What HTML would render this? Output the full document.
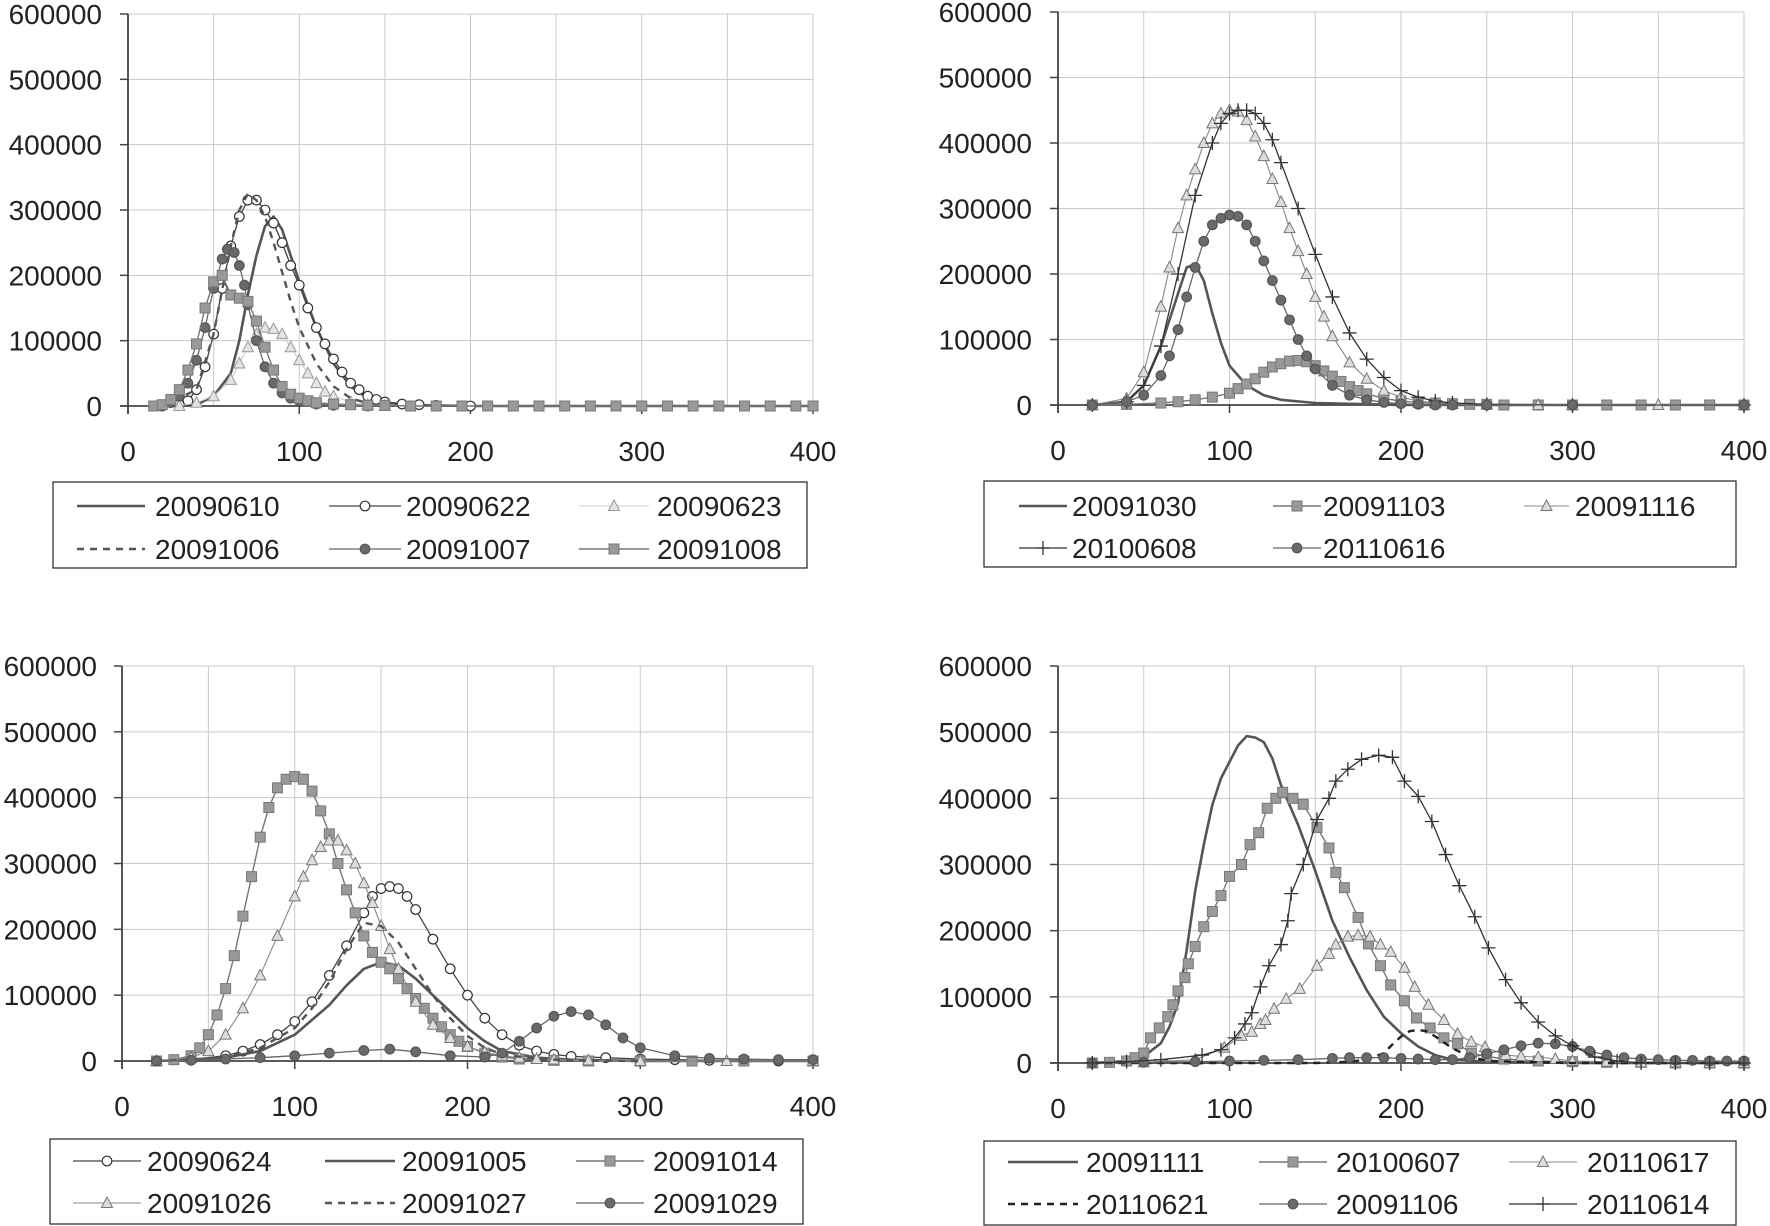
<!DOCTYPE html>
<html><head><meta charset="utf-8"><style>
html,body{margin:0;padding:0;background:#fff;}
svg{display:block;}
text{font-family:"Liberation Sans",sans-serif;fill:#222;}
</style></head><body>
<svg id="svg" width="1770" height="1226" viewBox="0 0 1770 1226" xmlns="http://www.w3.org/2000/svg"></svg>
<script>
// ---- data (x = day, y = thousands) ----
const xTicks=[0,100,200,300,400];
const yTicks=[0,100000,200000,300000,400000,500000,600000];
const yTickLabels=["0","100000","200000","300000","400000","500000","600000"];

// panel 1
const p1_20090610_x=[20,40,50,60,65,70,75,80,85,90,95,100,110,120,130,140,150,170,200,400];
const p1_20090610_y=[0,2,15,50,100,170,230,275,290,270,230,190,120,65,30,12,5,1,0,0];
const p1_20090622_x=[20,30,35,40,45,50,55,60,65,70,75,80,85,90,95,100,105,110,115,120,125,130,135,140,145,150,160,170,180,200];
const p1_20090622_y=[0,2,8,25,60,110,180,245,290,315,315,300,280,250,215,185,150,120,95,72,52,35,25,15,10,6,3,2,1,0];
const p1_20090623_x=[30,40,50,60,65,70,75,80,85,90,95,100,105,110,115,120,130,140,150];
const p1_20090623_y=[0,5,15,40,65,90,110,120,118,110,90,70,50,35,22,15,6,2,0];
const p1_20091006_x=[20,40,50,60,65,70,75,80,85,90,95,100,110,120,130,140,150];
const p1_20091006_y=[0,25,110,245,300,325,315,290,250,205,160,120,65,30,12,4,0];
const p1_20091007_x=[20,25,30,35,40,45,50,55,58,62,65,68,70,75,80,85,90,95,100,110,120,140];
const p1_20091007_y=[0,5,15,35,70,120,180,225,240,235,215,185,155,100,60,35,20,12,8,3,1,0];
const p1_20091008_x=[15,20,25,30,35,40,45,50,55,60,65,70,75,80,85,90,95,100,105,110,120,130,140,150,165,180,195,210,225,240,255,270,285,300,315,330,345,360,375,390,400];
const p1_20091008_y=[0,2,10,25,55,95,150,190,200,170,165,160,130,90,55,30,18,12,8,5,3,2,1,1,0,0,0,0,0,0,0,0,0,0,0,0,0,0,0,0,0];

// panel 2
const p2_20091030_x=[20,40,50,60,70,75,80,85,90,95,100,110,120,130,150,200,400];
const p2_20091030_y=[0,5,30,90,170,210,215,190,140,95,60,30,15,8,3,0,0];
const p2_20091103_x=[20,40,60,70,80,90,100,105,110,115,120,125,130,135,140,145,150,155,160,165,170,175,180,190,200,210,220,230,240,250,260,280,300,320,340,360,380,400];
const p2_20091103_y=[0,1,3,5,8,12,18,25,32,40,50,58,63,67,68,66,60,52,44,36,28,22,17,10,6,4,3,2,1,1,0,0,0,0,0,0,0,0];
const p2_20091116_x=[20,40,50,60,65,70,75,80,85,90,95,100,105,110,115,120,125,130,135,140,145,150,155,160,170,180,190,200,210,220,230,250,280,300,350,400];
const p2_20091116_y=[0,10,50,150,210,270,320,360,400,430,445,450,448,435,410,380,345,310,270,235,200,165,135,105,65,40,22,12,6,3,2,1,0,0,0,0];
const p2_20100608_x=[20,40,50,60,70,80,90,95,100,105,110,115,120,125,130,140,150,160,170,180,190,200,210,220,230,250,300,400];
const p2_20100608_y=[0,5,30,90,200,320,400,430,445,450,450,445,430,405,370,300,230,165,110,70,42,22,12,6,3,1,0,0];
const p2_20110616_x=[20,40,50,60,65,70,75,80,85,90,95,100,105,110,115,120,125,130,135,140,145,150,160,170,180,190,200,210,220,230,250,300,400];
const p2_20110616_y=[0,5,15,45,75,115,165,210,250,275,285,290,288,275,250,220,190,160,130,100,75,55,30,15,8,4,2,1,0,0,0,0,0];

// panel 3
const p3_20090624_x=[20,40,60,70,80,90,100,110,120,130,140,145,150,155,160,165,170,180,190,200,210,220,230,240,250,260,280,300,320,340,360,380,400];
const p3_20090624_y=[0,2,8,15,25,40,60,90,130,175,225,250,262,265,262,250,230,185,140,100,65,40,24,15,10,7,5,3,2,1,1,0,0];
const p3_20091005_x=[20,60,80,100,120,130,140,150,160,170,180,190,200,210,220,240,260,300,400];
const p3_20091005_y=[0,5,15,40,85,115,140,150,145,125,100,75,50,30,15,5,2,0,0];
const p3_20091014_x=[20,30,40,45,50,55,60,65,70,75,80,85,90,95,100,105,110,115,120,125,130,135,140,145,150,155,160,165,170,175,180,185,190,195,200,210,220,230,250,270,300,330,360,400];
const p3_20091014_y=[0,2,8,20,40,70,110,160,220,280,340,385,415,428,432,428,410,380,345,300,260,225,190,165,150,140,125,110,95,80,65,52,40,30,22,12,6,3,1,0,0,0,0,0];
const p3_20091026_x=[20,40,50,60,70,80,90,100,105,110,115,120,125,130,135,140,145,150,155,160,170,180,190,200,210,220,230,240,250,270,300,350,400];
const p3_20091026_y=[0,5,15,40,80,130,190,250,280,305,325,335,335,320,300,270,240,205,170,140,90,55,35,22,13,8,5,3,2,1,0,0,0];
const p3_20091027_x=[20,60,80,100,110,120,130,140,150,160,170,180,190,200,210,220,240,260,300];
const p3_20091027_y=[0,5,20,50,80,120,170,210,205,180,140,100,65,38,20,10,3,1,0];
const p3_20091029_x=[20,40,60,80,100,120,140,155,170,190,210,220,230,240,250,260,270,280,290,300,320,340,360,380,400];
const p3_20091029_y=[0,1,3,5,8,12,16,18,14,8,6,12,30,50,68,75,70,55,35,20,8,4,3,2,2];

// panel 4
const p4_20091111_x=[20,40,50,60,65,70,75,80,85,90,95,100,105,110,115,120,125,130,140,150,160,170,180,190,200,210,220,230,250,300,400];
const p4_20091111_y=[0,3,10,30,55,90,170,260,330,390,430,455,480,494,492,485,460,420,360,290,215,160,110,70,45,25,12,5,2,0,0];
const p4_20100607_x=[20,30,40,45,50,54,59,64,67,70,74,76,80,85,90,95,100,107,112,117,122,127,131,137,143,151,158,162,167,175,181,188,194,202,209,217,225,233,241,250,260,280,300,320,340,360,380,400];
const p4_20100607_y=[0,1,3,8,15,38,53,70,88,109,129,150,176,206,229,253,282,300,330,348,385,400,409,400,391,356,325,288,265,220,180,147,118,94,68,53,38,29,15,10,6,3,2,1,1,0,0,0];
const p4_20110617_x=[20,50,80,97,107,113,118,121,126,133,141,151,158,162,169,175,182,188,194,202,208,216,225,233,241,249,261,270,280,290,300,320,340,360,380,400];
const p4_20110617_y=[0,1,5,23,41,47,59,65,82,97,112,147,165,179,191,193,191,179,168,144,115,88,65,44,32,24,12,10,9,6,3,2,1,1,0,0];
const p4_20110621_x=[20,150,170,180,190,195,200,205,210,215,220,230,240,250,300,400];
const p4_20110621_y=[0,0,2,5,15,28,40,48,50,48,40,22,10,3,0,0];
const p4_20091106_x=[20,50,80,100,120,140,160,170,180,190,200,210,220,230,240,250,260,270,280,290,300,310,320,330,340,350,360,370,380,390,400];
const p4_20091106_y=[0,1,2,3,4,5,7,8,8,8,7,6,5,5,8,14,20,26,30,29,25,18,12,8,6,5,4,4,3,3,3];
const p4_20110614_x=[20,40,60,84,95,103,109,113,118,123,130,134,136,143,151,158,162,169,177,187,195,202,210,218,226,234,243,251,261,270,280,290,300,313,326,340,360,380,400];
const p4_20110614_y=[0,2,5,12,20,38,59,76,115,147,179,215,256,300,368,400,426,444,459,465,462,426,403,365,315,268,221,174,126,91,62,41,26,9,3,0,0,0,0];

const STY={
 solid:{line:'#555',w:2.6,mk:null},
 dashed:{line:'#555',w:2.4,dash:'7 6',mk:null},
 dashedDark:{line:'#222',w:2.4,dash:'7 6',mk:null},
 circOpen:{line:'#444',w:1.3,mk:'circle',fill:'#fff',stroke:'#333'},
 circDark:{line:'#666',w:1.3,mk:'circle',fill:'#6a6a6a',stroke:'#555'},
 square:{line:'#777',w:1.4,mk:'square',fill:'#999',stroke:'#777'},
 tri:{line:'#888',w:1.1,mk:'tri',fill:'#ddd',stroke:'#777'},
 triFaint:{line:'#ccc',w:1,mk:'tri',fill:'#e4e4e4',stroke:'#999'},
 plus:{line:'#333',w:1.3,mk:'plus',stroke:'#333'}
};

const panels=[
 {name:'chart-top-left',L:128,R:813,T:14,B:406,ylabR:102,xlabY:461,
  box:[53,482,754,86],rows:[506,549],cols:[[77,145,155],[329,401,406],[579,649,657]],
  series:[['20090610',p1_20090610_x,p1_20090610_y,'solid'],['20090622',p1_20090622_x,p1_20090622_y,'circOpen'],['20090623',p1_20090623_x,p1_20090623_y,'triFaint'],
   ['20091006',p1_20091006_x,p1_20091006_y,'dashed'],['20091007',p1_20091007_x,p1_20091007_y,'circDark'],['20091008',p1_20091008_x,p1_20091008_y,'square']]},
 {name:'chart-top-right',L:1058,R:1744,T:12,B:405,ylabR:1032,xlabY:460,
  box:[984,481,752,86],rows:[506,548],cols:[[1019,1067,1072],[1273,1321,1323],[1524,1569,1575]],
  series:[['20091030',p2_20091030_x,p2_20091030_y,'solid'],['20091103',p2_20091103_x,p2_20091103_y,'square'],['20091116',p2_20091116_x,p2_20091116_y,'tri'],
   ['20100608',p2_20100608_x,p2_20100608_y,'plus'],['20110616',p2_20110616_x,p2_20110616_y,'circDark']]},
 {name:'chart-bottom-left',L:122,R:813,T:666,B:1061,ylabR:97,xlabY:1116,
  box:[50,1139,753,85],rows:[1161,1203],cols:[[73,141,147],[325,395,402],[576,644,653]],
  series:[['20090624',p3_20090624_x,p3_20090624_y,'circOpen'],['20091005',p3_20091005_x,p3_20091005_y,'solid'],['20091014',p3_20091014_x,p3_20091014_y,'square'],
   ['20091026',p3_20091026_x,p3_20091026_y,'tri'],['20091027',p3_20091027_x,p3_20091027_y,'dashed'],['20091029',p3_20091029_x,p3_20091029_y,'circDark']]},
 {name:'chart-bottom-right',L:1058,R:1744,T:666,B:1063,ylabR:1032,xlabY:1118,
  box:[984,1141,752,84],rows:[1162,1204],cols:[[1008,1078,1086],[1259,1327,1336],[1509,1577,1587]],
  series:[['20091111',p4_20091111_x,p4_20091111_y,'solid'],['20100607',p4_20100607_x,p4_20100607_y,'square'],['20110617',p4_20110617_x,p4_20110617_y,'tri'],
   ['20110621',p4_20110621_x,p4_20110621_y,'dashedDark'],['20091106',p4_20091106_x,p4_20091106_y,'circDark'],['20110614',p4_20110614_x,p4_20110614_y,'plus']]}
];

const NS='http://www.w3.org/2000/svg';
const svg=document.getElementById('svg');
function mk(tag,attrs,parent){const e=document.createElementNS(NS,tag);for(const k in attrs)e.setAttribute(k,attrs[k]);parent.appendChild(e);return e;}

function marker(g,type,cx,cy,s){
 let e;
 if(type==='circle'){e=mk('circle',{cx:cx,cy:cy,r:4.8,fill:s.fill,stroke:s.stroke,'stroke-width':1.2},g);}
 else if(type==='square'){e=mk('rect',{x:cx-5,y:cy-5,width:10,height:10,fill:s.fill,stroke:s.stroke,'stroke-width':1},g);}
 else if(type==='tri'){e=mk('polygon',{points:`${cx},${cy-6} ${cx-5.5},${cy+4.5} ${cx+5.5},${cy+4.5}`,fill:s.fill,stroke:s.stroke,'stroke-width':1},g);}
 else if(type==='plus'){e=mk('path',{d:`M${cx-7},${cy}H${cx+7}M${cx},${cy-7}V${cy+7}`,stroke:s.stroke,'stroke-width':1.3,fill:'none'},g);}
 
 
}

panels.forEach(p=>{
 const g=mk('g',{},svg);
 
 
 const xs=v=>p.L+(v-0)/400*(p.R-p.L);
 const ys=v=>p.B-(v/600000)*(p.B-p.T);
 // grid
 for(let v=50;v<=400;v+=50){const l=mk('line',{x1:xs(v),x2:xs(v),y1:p.T,y2:p.B,stroke:'#c9c9c9','stroke-width':1},g);}
 yTicks.forEach(v=>{if(v===0)return;const l=mk('line',{x1:p.L,x2:p.R,y1:ys(v),y2:ys(v),stroke:'#c9c9c9','stroke-width':1},g);});
 // axes
 const ya=mk('line',{x1:p.L,x2:p.L,y1:p.T,y2:p.B+8,stroke:'#444','stroke-width':1.8},g);
 
 const xa=mk('line',{x1:p.L-8,x2:p.R,y1:p.B,y2:p.B,stroke:'#444','stroke-width':1.8},g);
 
 yTicks.forEach((v,i)=>{
  mk('line',{x1:p.L-8,x2:p.L,y1:ys(v),y2:ys(v),stroke:'#444','stroke-width':1.5},g);
  const t=mk('text',{x:p.ylabR,y:ys(v)+10,'text-anchor':'end','font-size':28},g);t.textContent=yTickLabels[i];
  
 });
 xTicks.forEach(v=>{
  mk('line',{x1:xs(v),x2:xs(v),y1:p.B,y2:p.B+8,stroke:'#444','stroke-width':1.5},g);
  const t=mk('text',{x:xs(v),y:p.xlabY,'text-anchor':'middle','font-size':28},g);t.textContent=String(v);
  
 });
 // series
 p.series.forEach(([nm,X,Y,st])=>{
  const s=STY[st];
  const sg=mk('g',{},g);
  
  
  const d=X.map((x,i)=>(i?'L':'M')+xs(x).toFixed(1)+','+ys(Y[i]*1000).toFixed(1)).join('');
  const path=mk('path',{d:d,fill:'none',stroke:s.line,'stroke-width':s.w,'stroke-linejoin':'round'},sg);
  if(s.dash)path.setAttribute('stroke-dasharray',s.dash);
  
  
  if(s.mk)X.forEach((x,i)=>marker(sg,s.mk,xs(x),ys(Y[i]*1000),s));
 });
 // legend
 const lg=mk('g',{},g);
 
 
 mk('rect',{x:p.box[0],y:p.box[1],width:p.box[2],height:p.box[3],fill:'#fff',stroke:'#333','stroke-width':1.3},lg);
 p.series.forEach(([nm,X,Y,st],i)=>{
  const s=STY[st];const c=p.cols[i%3];const ry=p.rows[Math.floor(i/3)];
  const eg=mk('g',{},lg);
  
  
  const l=mk('line',{x1:c[0],x2:c[1],y1:ry,y2:ry,stroke:s.line,'stroke-width':s.w},eg);
  if(s.dash)l.setAttribute('stroke-dasharray',s.dash);
  if(s.mk)marker(eg,s.mk,(c[0]+c[1])/2,ry,s);
  const t=mk('text',{x:c[2],y:ry+10,'font-size':28},eg);t.textContent=nm;
  
 });
});
</script>
</body></html>
